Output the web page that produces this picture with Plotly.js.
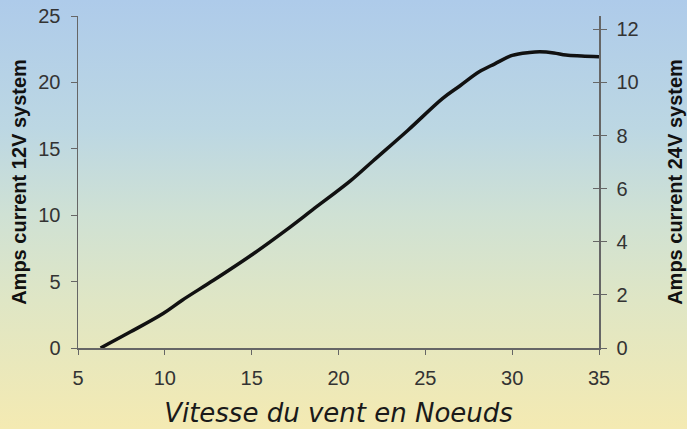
<!DOCTYPE html>
<html>
<head>
<meta charset="utf-8">
<script src="https://cdn.plot.ly/plotly-3.0.1.min.js"></script>
<style>
  html, body { margin:0; padding:0; }
  body { width:687px; height:429px; overflow:hidden;
    background: linear-gradient(to bottom, #aecbea 0%, #bcd7e3 30%, #cfe1d4 50%, #dfe6c5 70%, #f4eab2 100%); }
  #chart { width:687px; height:429px; }
</style>
</head>
<body>
<div id="chart"></div>
<script>
// Wind speed (knots) and current for a 12V system (amps)
const windKnots = [6.3, 8, 9.9, 11, 12.8, 15.1, 17, 18.5, 20.7, 22, 24, 26, 27, 28.1, 29, 30, 31, 31.6, 32.4, 33.1, 34, 35];
const amps12V  = [0, 1.2, 2.6, 3.6, 5.1, 7.1, 8.9, 10.4, 12.6, 14.1, 16.4, 18.8, 19.75, 20.8, 21.4, 22.03, 22.25, 22.3, 22.22, 22.06, 21.99, 21.93];

const xTicks = [5, 10, 15, 20, 25, 30, 35];
const yTicks12 = [0, 5, 10, 15, 20, 25];
const yTicks24 = [0, 2, 4, 6, 8, 10, 12];

const xTitle = 'Vitesse du vent en Noeuds';
const yTitle12 = 'Amps current 12V system';
const yTitle24 = 'Amps current 24V system';

const axisColor = '#666666';
const tickFont = {family: 'Liberation Sans, Arial, sans-serif', size: 20, color: '#333333'};
const titleFont = {family: 'Liberation Sans, Arial, sans-serif', size: 20, color: '#111111', weight: 'bold'};

const curve = {
  x: windKnots, y: amps12V, type: 'scatter', mode: 'lines',
  line: {color: '#111111', width: 3.5, shape: 'spline', smoothing: 1},
  hoverinfo: 'skip', showlegend: false
};
// empty traces so the secondary (24V) axis and its inner tick marks are drawn
const axis24 = {x: [], y: [], yaxis: 'y2', type: 'scatter', mode: 'lines', showlegend: false, hoverinfo: 'skip'};
const axis24Ticks = {x: [], y: [], yaxis: 'y3', type: 'scatter', mode: 'lines', showlegend: false, hoverinfo: 'skip'};

const layout = {
  width: 687, height: 429,
  margin: {l: 78, r: 88, t: 16, b: 81},
  paper_bgcolor: 'rgba(0,0,0,0)', plot_bgcolor: 'rgba(0,0,0,0)',
  showlegend: false,
  xaxis: {
    range: [5, 35], tickvals: xTicks, ticktext: xTicks.map(String),
    showgrid: false, zeroline: false, showline: true, linecolor: axisColor, linewidth: 1.5,
    ticks: 'outside', ticklen: 5, tickcolor: axisColor, tickwidth: 1,
    tickfont: tickFont, ticklabelstandoff: 6,
    title: {text: xTitle, font: {family: 'DejaVu Sans, Verdana, sans-serif', size: 26, color: '#1a1a1a', style: 'italic'}, standoff: 16}
  },
  yaxis: {
    range: [0, 25], tickvals: yTicks12, ticktext: yTicks12.map(String),
    showgrid: false, zeroline: false, showline: true, linecolor: axisColor, linewidth: 1.5,
    ticks: 'outside', ticklen: 6, tickcolor: axisColor, tickwidth: 1,
    tickfont: tickFont, ticklabelstandoff: 6,
    title: {text: yTitle12, font: titleFont, standoff: 6}
  },
  yaxis2: {
    overlaying: 'y', side: 'right', anchor: 'x',
    range: [0, 12.5], tickvals: yTicks24, ticktext: yTicks24.map(String),
    showgrid: false, zeroline: false, showline: true, linecolor: axisColor, linewidth: 1.5,
    ticks: 'outside', ticklen: 6, tickcolor: axisColor, tickwidth: 1,
    tickfont: tickFont, ticklabelstandoff: 6,
    title: {text: yTitle24, font: titleFont, standoff: 30}
  },
  yaxis3: {
    overlaying: 'y', side: 'right', anchor: 'x',
    range: [0, 12.5], tickvals: yTicks24, showticklabels: false,
    showgrid: false, zeroline: false, showline: false,
    ticks: 'inside', ticklen: 6, tickcolor: axisColor, tickwidth: 1
  }
};

Plotly.newPlot('chart', [axis24, axis24Ticks, curve], layout, {displayModeBar: false, staticPlot: true});
</script>
</body>
</html>
